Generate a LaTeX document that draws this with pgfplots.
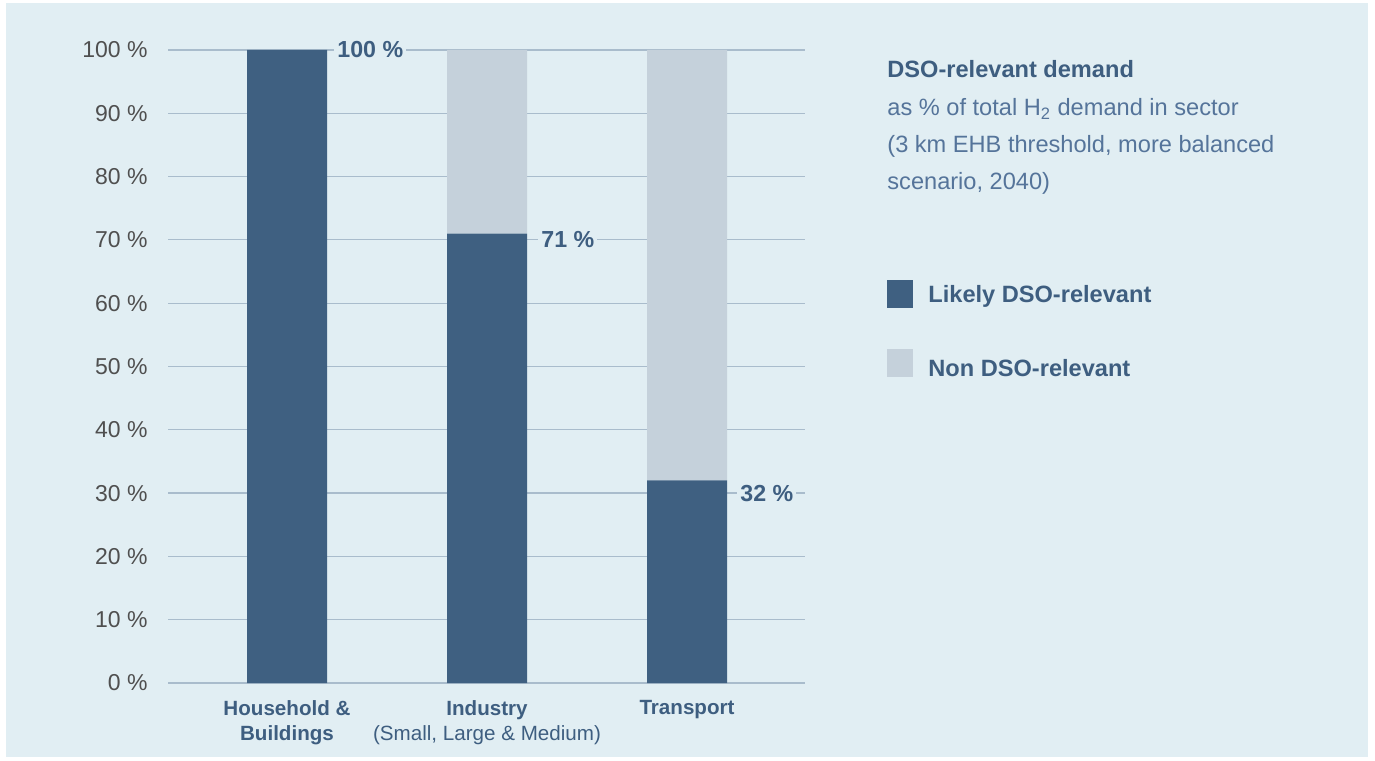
\documentclass[border=0pt]{standalone}
\usepackage{pgfplots}
\pgfplotsset{compat=1.18}
\usepackage{fontspec}
\setmainfont{Liberation Sans}
\definecolor{bg}{HTML}{E1EEF3}
\definecolor{darkbar}{HTML}{3F6081}
\definecolor{lightbar}{HTML}{C5D1DB}
\definecolor{gridc}{HTML}{A9BCCC}
\definecolor{txtblue}{HTML}{3E5E80}
\definecolor{descblue}{HTML}{55749A}
\definecolor{tickgray}{HTML}{4F4F4F}
\begin{document}
\begin{tikzpicture}
\fill[white] (0,0) rectangle (687.5pt,380pt);
\fill[bg] (3pt,1.5pt) rectangle (684pt,378.5pt);
\begin{axis}[
  at={(84pt,38.5pt)}, anchor=south west,
  scale only axis, width=318.5pt, height=316.5pt,
  xmin=-0.595, xmax=2.59, ymin=0, ymax=100,
  ybar stacked, bar width=40pt,
  axis line style={draw=none},
  major tick length=0pt,
  ymajorgrids, grid style={gridc, line width=0.6pt},
  ytick={0,10,20,30,40,50,60,70,80,90,100},
  yticklabels={0 \%,10 \%,20 \%,30 \%,40 \%,50 \%,60 \%,70 \%,80 \%,90 \%,100 \%},
  yticklabel style={anchor=east, inner sep=0pt, xshift=-10pt, font=\fontsize{11.5}{14}\selectfont, text=tickgray},
  xtick={0,1,2},
  xticklabels={{\textbf{Household \&}\\\textbf{Buildings}},{\textbf{Industry}\\(Small, Large \& Medium)},{\textbf{Transport}}},
  xticklabel style={align=center, anchor=north, inner sep=0pt, yshift=-8.5pt, font=\fontsize{10.3}{12.5}\selectfont, text=txtblue},
  clip=false,
]
\addplot[fill=darkbar, draw=none] coordinates {(0,100) (1,71) (2,32)};
\addplot[fill=lightbar, draw=none] coordinates {(0,0) (1,29) (2,68)};
\node[anchor=west, fill=bg, inner xsep=1.5pt, inner ysep=1pt, text=txtblue, font=\bfseries\fontsize{11.6}{14}\selectfont, xshift=3.5pt] at (axis cs:0.2,100) {100 \%};
\node[anchor=west, fill=bg, inner xsep=1.5pt, inner ysep=1pt, text=txtblue, font=\bfseries\fontsize{11.6}{14}\selectfont, xshift=5.5pt] at (axis cs:1.2,70) {71 \%};
\node[anchor=west, fill=bg, inner xsep=1.5pt, inner ysep=1pt, text=txtblue, font=\bfseries\fontsize{11.6}{14}\selectfont, xshift=5pt] at (axis cs:2.2,30) {32 \%};
\end{axis}
\node[anchor=base west, inner sep=0pt, text=txtblue, font=\bfseries\fontsize{11.8}{14}\selectfont] at (443.5pt,341pt) {DSO-relevant demand};
\node[anchor=base west, inner sep=0pt, text=descblue, font=\fontsize{11.8}{14}\selectfont] at (443.5pt,322pt) {as \% of total H\textsubscript{2} demand in sector};
\node[anchor=base west, inner sep=0pt, text=descblue, font=\fontsize{11.8}{14}\selectfont] at (443.5pt,303.5pt) {(3 km EHB threshold, more balanced};
\node[anchor=base west, inner sep=0pt, text=descblue, font=\fontsize{11.8}{14}\selectfont] at (443.5pt,285pt) {scenario, 2040)};
\fill[darkbar] (443.5pt,226pt) rectangle (456.5pt,240pt);
\node[anchor=base west, inner sep=0pt, text=txtblue, font=\bfseries\fontsize{11.8}{14}\selectfont] at (464pt,228.5pt) {Likely DSO-relevant};
\fill[lightbar] (443.5pt,191.5pt) rectangle (456.5pt,205.5pt);
\node[anchor=base west, inner sep=0pt, text=txtblue, font=\bfseries\fontsize{11.8}{14}\selectfont] at (464pt,191.5pt) {Non DSO-relevant};
\end{tikzpicture}
\end{document}
